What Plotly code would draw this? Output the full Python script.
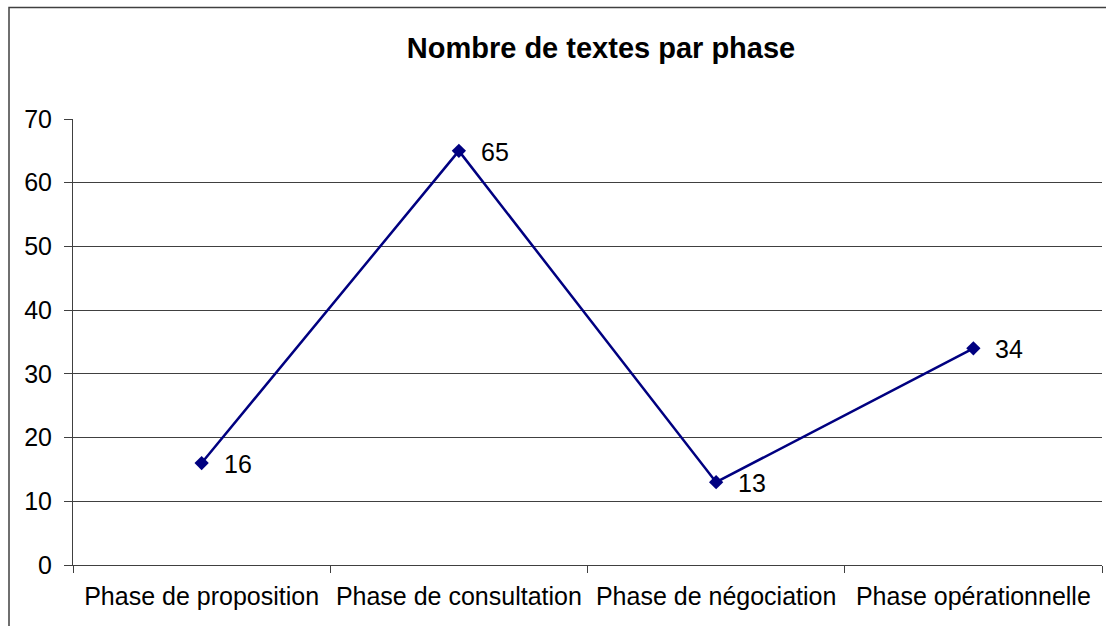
import plotly.graph_objects as go

categories = ["Phase de proposition", "Phase de consultation", "Phase de négociation", "Phase opérationnelle"]
values = [16, 65, 13, 34]
y_ticks = [0, 10, 20, 30, 40, 50, 60, 70]

W, H = 1106, 626
L, R, T, B = 73, 1102, 119, 565

fig = go.Figure()
fig.add_trace(go.Scatter(
    x=categories, y=values, mode="lines+markers",
    line=dict(color="#000080", width=2.5),
    marker=dict(symbol="diamond", size=11, color="#000080"),
    hoverinfo="x+y", showlegend=False,
))

for c, v in zip(categories, values):
    fig.add_annotation(x=c, y=v, text=str(v), showarrow=False,
                       xanchor="left", yanchor="middle", xshift=20, yshift=-1,
                       font=dict(size=25, color="black"))

def px(x):
    return (x - L) / (R - L)

def py(y):
    return (B - y) / (B - T)

fig.add_shape(type="rect", xref="paper", yref="paper",
              x0=px(9), x1=px(1112), y0=py(640), y1=py(7.5),
              line=dict(color="#404040", width=1.5), layer="below")

fig.update_layout(
    width=W, height=H,
    margin=dict(l=L, r=W - R, t=T, b=H - B, pad=0),
    paper_bgcolor="white", plot_bgcolor="white",
    font=dict(family="Liberation Sans, Arial, sans-serif", size=25, color="black"),
    title=dict(text="<b>Nombre de textes par phase</b>", x=px(601), xanchor="center",
               xref="paper", y=1 - 48 / H, yanchor="middle", yref="container",
               font=dict(size=29, color="black")),
    xaxis=dict(type="category", range=[-0.5, 3.5], tickson="boundaries",
               ticks="outside", ticklen=7, tickcolor="#404040",
               showline=True, linecolor="#404040", linewidth=1,
               showgrid=False, tickfont=dict(size=25), ticklabelstandoff=9,
               fixedrange=True),
    yaxis=dict(range=[0, 70], tickvals=y_ticks, ticks="outside", ticklen=8,
               tickcolor="#404040", showline=True, linecolor="#404040", linewidth=1,
               showgrid=True, gridcolor="#404040", gridwidth=1, zeroline=False,
               tickfont=dict(size=25), ticklabelstandoff=7, fixedrange=True),
)

fig.write_html("out.html", config={"displayModeBar": False})

# remove the browser's default page margin so the figure fills the window
with open("out.html", encoding="utf-8") as f:
    html = f.read()
html = html.replace("<body>", '<body style="margin:0;overflow:hidden">', 1)
with open("out.html", "w", encoding="utf-8") as f:
    f.write(html)
